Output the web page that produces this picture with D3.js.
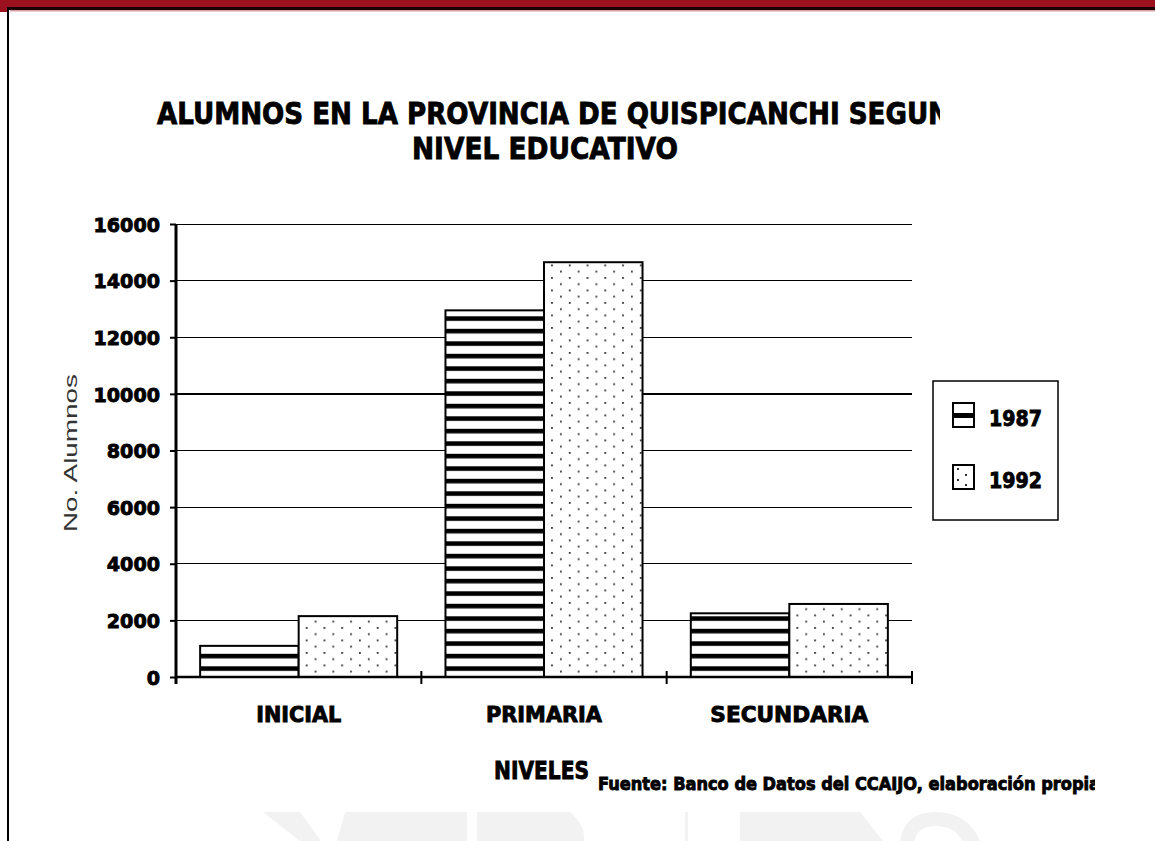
<!DOCTYPE html>
<html>
<head>
<meta charset="utf-8">
<script src="https://cdn.jsdelivr.net/npm/d3@7"></script>
<style>
  html, body { margin: 0; padding: 0; background: #fff; }
  svg { display: block; }
  .heavy { stroke: #000; stroke-width: 0.9px; paint-order: stroke; }
</style>
</head>
<body>
<script>
// ---- data ----
const categories = ["INICIAL", "PRIMARIA", "SECUNDARIA"];
const seriesNames = ["1987", "1992"];
const values1987 = [1100, 12950, 2250];
const values1992 = [2150, 14650, 2580];
const yTicks = [0, 2000, 4000, 6000, 8000, 10000, 12000, 14000, 16000];
const titleLines = ["ALUMNOS EN LA PROVINCIA DE QUISPICANCHI SEGUN", "NIVEL EDUCATIVO"];
const yAxisTitle = "No. Alumnos";
const xAxisTitle = "NIVELES";
const sourceNote = "Fuente: Banco de Datos del CCAIJO, elaboración propia";

const W = 1155, H = 841;
const svg = d3.select("body").append("svg").attr("width", W).attr("height", H);
const defs = svg.append("defs");

const boldFont = "'DejaVu Sans', 'Liberation Sans', Arial, sans-serif";

// scales
const x = d3.scaleBand().domain(categories).range([176, 912]).paddingInner(0).paddingOuter(0);
const xs = d3.scaleBand().domain(seriesNames).range([0, x.bandwidth()]).paddingInner(0).paddingOuter(0.245);
const y = d3.scaleLinear().domain([0, 16000]).range([677, 224]);

// patterns
const stripe = defs.append("pattern").attr("id", "stripes")
  .attr("patternUnits", "userSpaceOnUse").attr("width", 10).attr("height", 12.5)
  .attr("x", 0).attr("y", y(0) - 10.7);
stripe.append("rect").attr("width", 10).attr("height", 12.5).attr("fill", "#fff");
stripe.append("rect").attr("y", 0).attr("width", 10).attr("height", 4.6).attr("fill", "#000");

const dots = defs.append("pattern").attr("id", "dots")
  .attr("patternUnits", "userSpaceOnUse").attr("width", 17.75).attr("height", 12.5)
  .attr("x", 5.5).attr("y", 2);
dots.append("rect").attr("width", 17.75).attr("height", 12.5).attr("fill", "#fff");
dots.append("rect").attr("x", 0).attr("y", 0).attr("width", 1.8).attr("height", 1.8).attr("fill", "#333");
dots.append("rect").attr("x", 8.875).attr("y", 6.25).attr("width", 1.8).attr("height", 1.8).attr("fill", "#333");

// watermark (faint)
const wm = svg.append("g").attr("fill", "#f2f2f2");
wm.append("path").attr("d", "M263,812 L300,812 L321,841 L300,841 Z");
wm.append("path").attr("d", "M345,812 L467,812 L467,841 L337,841 Z");
wm.append("path").attr("d", "M477,812 L570,812 Q586,826 584,841 L477,841 Z");
wm.append("rect").attr("x", 685).attr("y", 812).attr("width", 3).attr("height", 29);
wm.append("path").attr("d", "M740,812 L860,812 L883,841 L740,841 Z");
wm.append("path").attr("d", "M900,841 Q905,812 935,812 Q968,812 980,841 L962,841 Q955,826 935,826 Q918,826 914,841 Z");

// frame
svg.append("rect").attr("x", 0).attr("y", 0).attr("width", W).attr("height", 7).attr("fill", "#9b111e");
svg.append("rect").attr("x", 0).attr("y", 0).attr("width", 7).attr("height", 12).attr("fill", "#9b111e");
svg.append("rect").attr("x", 7).attr("y", 7).attr("width", W - 7).attr("height", 3).attr("fill", "#1a0000");
svg.append("rect").attr("x", 10).attr("y", 10).attr("width", W - 10).attr("height", 1.5).attr("fill", "#d9a0a5");
svg.append("rect").attr("x", 7).attr("y", 7).attr("width", 2).attr("height", H - 7).attr("fill", "#000");

// title
const clip = defs.append("clipPath").attr("id", "titleclip");
clip.append("rect").attr("x", 0).attr("y", 80).attr("width", 940).attr("height", 100);
const tg = svg.append("g").attr("clip-path", "url(#titleclip)").attr("class", "heavy")
  .attr("font-family", boldFont).attr("font-weight", "bold").attr("font-size", 31).attr("fill", "#000");
tg.append("text").attr("x", 157).attr("y", 124).attr("textLength", 793).attr("lengthAdjust", "spacingAndGlyphs")
  .text(titleLines[0]);
tg.append("text").attr("x", 412).attr("y", 159).attr("textLength", 266).attr("lengthAdjust", "spacingAndGlyphs")
  .text(titleLines[1]);

// gridlines
svg.append("g").selectAll("line").data(yTicks.filter(d => d > 0)).join("line")
  .attr("x1", 176).attr("x2", 912)
  .attr("y1", d => y(d)).attr("y2", d => y(d))
  .attr("stroke", "#000").attr("stroke-width", d => d === 10000 ? 2 : 1)
  .attr("shape-rendering", "crispEdges");

// bars
const groups = svg.append("g").selectAll("g").data(categories).join("g")
  .attr("transform", d => `translate(${x(d)},0)`);
groups.each(function(cat, i) {
  const g = d3.select(this);
  const vals = [values1987[i], values1992[i]];
  g.selectAll("rect").data(seriesNames.map((s, j) => ({ s, v: vals[j] }))).join("rect")
    .attr("x", d => xs(d.s))
    .attr("y", d => y(d.v))
    .attr("width", xs.bandwidth())
    .attr("height", d => y(0) - y(d.v))
    .attr("fill", d => d.s === "1987" ? "url(#stripes)" : "url(#dots)")
    .attr("stroke", "#000").attr("stroke-width", 2);
});

// y axis
const yAxis = d3.axisLeft(y).tickValues(yTicks).tickSize(6).tickPadding(10).tickFormat(d3.format("d"));
const ya = svg.append("g").attr("transform", "translate(176,0)").call(yAxis);
ya.select(".domain").attr("stroke-width", 3).attr("d", `M0,${y(16000)}V${y(0) + 7}`);
ya.selectAll(".tick line").attr("stroke-width", 2);
ya.selectAll(".tick text").attr("class", "heavy")
  .attr("font-family", boldFont).attr("font-weight", "bold").attr("font-size", 20).attr("fill", "#000")
  .attr("dy", "0.36em")
  .attr("textLength", d => String(d).length * 13.3).attr("lengthAdjust", "spacingAndGlyphs");

// x axis
const xAxis = d3.axisBottom(x).tickSize(0).tickPadding(30);
const xa = svg.append("g").attr("transform", `translate(0,${y(0)})`).call(xAxis);
xa.select(".domain").attr("stroke-width", 2.5).attr("d", `M176,0H912`);
xa.selectAll(".tick text").attr("class", "heavy")
  .attr("font-family", boldFont).attr("font-weight", "bold").attr("font-size", 21).attr("fill", "#000")
  .attr("dy", "0.71em")
  .attr("textLength", (d, i) => [85, 116, 158][i]).attr("lengthAdjust", "spacingAndGlyphs");
// category boundary ticks
const bounds = categories.map(c => x(c) + x.bandwidth());
xa.append("g").selectAll("line").data(bounds).join("line")
  .attr("x1", d => d).attr("x2", d => d).attr("y1", -6).attr("y2", 7)
  .attr("stroke", "#000").attr("stroke-width", 2);

// axis titles
svg.append("text").attr("transform", "translate(77,453) rotate(-90)")
  .attr("text-anchor", "middle").attr("font-family", "'Liberation Sans', Arial, sans-serif")
  .attr("font-size", 19).attr("fill", "#333")
  .attr("textLength", 158).attr("lengthAdjust", "spacingAndGlyphs")
  .text(yAxisTitle);

svg.append("text").attr("class", "heavy").attr("x", 494).attr("y", 779).attr("textLength", 95).attr("lengthAdjust", "spacingAndGlyphs")
  .attr("font-family", boldFont).attr("font-weight", "bold").attr("font-size", 24).attr("fill", "#000")
  .text(xAxisTitle);

const clip2 = defs.append("clipPath").attr("id", "srcclip");
clip2.append("rect").attr("x", 590).attr("y", 760).attr("width", 505).attr("height", 40);
svg.append("text").attr("class", "heavy").attr("clip-path", "url(#srcclip)")
  .attr("x", 598).attr("y", 790).attr("textLength", 502).attr("lengthAdjust", "spacingAndGlyphs")
  .attr("font-family", boldFont).attr("font-weight", "bold").attr("font-size", 18).attr("fill", "#000")
  .text(sourceNote);

// legend
const lg = svg.append("g");
lg.append("rect").attr("x", 933).attr("y", 381).attr("width", 125).attr("height", 139)
  .attr("fill", "#fff").attr("stroke", "#000").attr("stroke-width", 1.5);
const legY = [403, 465];
seriesNames.forEach((s, i) => {
  const gy = legY[i];
  const sw = lg.append("g");
  sw.append("rect").attr("x", 953).attr("y", gy).attr("width", 21).attr("height", 24)
    .attr("fill", "#fff").attr("stroke", "#000").attr("stroke-width", 2);
  if (s === "1987") {
    sw.append("rect").attr("x", 953).attr("y", gy + 10).attr("width", 21).attr("height", 5).attr("fill", "#000");
  } else {
    [[4, 4], [12, 10], [4, 15], [12, 20]].forEach(p => {
      sw.append("rect").attr("x", 953 + p[0]).attr("y", gy + p[1] - 1).attr("width", 2).attr("height", 2).attr("fill", "#333");
    });
  }
  lg.append("text").attr("class", "heavy").attr("x", 989).attr("y", gy + 23).attr("textLength", 53).attr("lengthAdjust", "spacingAndGlyphs")
    .attr("font-family", boldFont).attr("font-weight", "bold").attr("font-size", 21).attr("fill", "#000")
    .text(s);
});
</script>
</body>
</html>
